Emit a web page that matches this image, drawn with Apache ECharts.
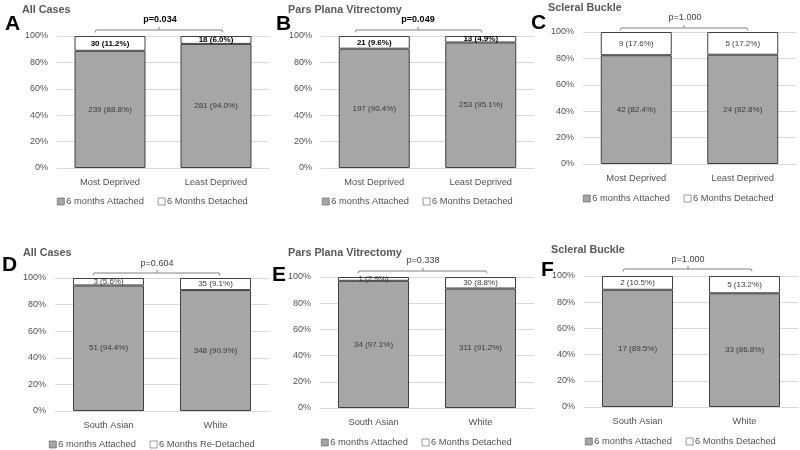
<!DOCTYPE html>
<html>
<head>
<meta charset="utf-8">
<script src="https://cdn.jsdelivr.net/npm/echarts@6/dist/echarts.min.js"></script>
<style>html,body{margin:0;padding:0;background:#fff}#c{width:800px;height:450px}</style>
</head>
<body>
<div id="c"></div>
<script>
// ---- data ----
var catsDeprivation = ['Most Deprived', 'Least Deprived'];
var catsEthnicity = ['South Asian', 'White'];
var yTicks = [0, 20, 40, 60, 80, 100];

var attachedA = [239, 281], attachedPctA = [88.8, 94.0];
var detachedA = [30, 18],   detachedPctA = [11.2, 6.0];
var attachedB = [197, 253], attachedPctB = [90.4, 95.1];
var detachedB = [21, 13],   detachedPctB = [9.6, 4.9];
var attachedC = [42, 24],   attachedPctC = [82.4, 82.8];
var detachedC = [9, 5],     detachedPctC = [17.6, 17.2];
var attachedD = [51, 348],  attachedPctD = [94.4, 90.9];
var detachedD = [3, 35],    detachedPctD = [5.6, 9.1];
var attachedE = [34, 311],  attachedPctE = [97.1, 91.2];
var detachedE = [1, 30],    detachedPctE = [2.9, 8.8];
var attachedF = [17, 33],   attachedPctF = [89.5, 86.8];
var detachedF = [2, 5],     detachedPctF = [10.5, 13.2];

var panelLetters = ['A', 'B', 'C', 'D', 'E', 'F'];
var panelTitles = ['All Cases', 'Pars Plana Vitrectomy', 'Scleral Buckle', 'All Cases', 'Pars Plana Vitrectomy', 'Scleral Buckle'];
var pValues = ['p=0.034', 'p=0.049', 'p=1.000', 'p=0.604', 'p=0.338', 'p=1.000'];
var attachedName = '6 months Attached';
var detachedNames = ['6 Months Detached', '6 Months Detached', '6 Months Detached', '6 Months Re-Detached', '6 Months Detached', '6 Months Detached'];

// ---- layout / style ----
var FONT = 'Liberation Sans, Arial, sans-serif';
var panels = [
  {cats: catsDeprivation, att: attachedA, attP: attachedPctA, det: detachedA, detP: detachedPctA, grid: {left: 57, top: 36, width: 212, height: 132}, boldTop: true,
   letter: [5, 25], title: [22, 10.5], p: [160, 20], br: [95, 223, 30, 159], legend: [57, 203]},
  {cats: catsDeprivation, att: attachedB, attP: attachedPctB, det: detachedB, detP: detachedPctB, grid: {left: 321, top: 36, width: 213, height: 132}, boldTop: true,
   letter: [276, 25], title: [288, 10.5], p: [418, 20], br: [355, 482, 30, 418], legend: [322, 203]},
  {cats: catsDeprivation, att: attachedC, attP: attachedPctC, det: detachedC, detP: detachedPctC, grid: {left: 583, top: 32, width: 213, height: 132}, boldTop: false,
   letter: [531, 24], title: [548, 8.5], p: [685, 18], br: [620, 748, 28, 684], legend: [583, 200]},
  {cats: catsEthnicity, att: attachedD, attP: attachedPctD, det: detachedD, detP: detachedPctD, grid: {left: 55, top: 278, width: 214, height: 133}, boldTop: false,
   letter: [2, 266], title: [23, 253.5], p: [157, 264], br: [93, 220, 273, 157], legend: [49, 446]},
  {cats: catsEthnicity, att: attachedE, attP: attachedPctE, det: detachedE, detP: detachedPctE, grid: {left: 320, top: 277, width: 214, height: 131}, boldTop: false,
   letter: [272, 276], title: [288, 253.5], p: [423, 261], br: [358, 487, 271, 423], legend: [321, 444]},
  {cats: catsEthnicity, att: attachedF, attP: attachedPctF, det: detachedF, detP: detachedPctF, grid: {left: 584, top: 276, width: 214, height: 131}, boldTop: false,
   letter: [541, 271], title: [551, 250.5], p: [688, 260], br: [623, 752, 269, 688], legend: [585, 443]}
];

var grids = [], xAxes = [], yAxes = [], series = [], legends = [], graphics = [];
panels.forEach(function (pn, i) {
  grids.push(Object.assign({containLabel: false}, pn.grid));
  xAxes.push({
    type: 'category', gridIndex: i, data: pn.cats,
    axisLine: {show: true, lineStyle: {color: '#d9d9d9'}}, axisTick: {show: false},
    axisLabel: {color: '#505050', fontSize: 9.3, fontFamily: FONT, margin: 10}
  });
  yAxes.push({
    type: 'value', gridIndex: i, min: yTicks[0], max: yTicks[yTicks.length - 1], interval: yTicks[1] - yTicks[0],
    axisLine: {show: false}, axisTick: {show: false},
    splitLine: {lineStyle: {color: '#d9d9d9', width: 1}},
    axisLabel: {color: '#505050', fontSize: 9, fontFamily: FONT, margin: 9, formatter: '{value}%'}
  });
  var detName = detachedNames[i];
  series.push({
    name: attachedName, type: 'bar', stack: 's' + i, xAxisIndex: i, yAxisIndex: i, barWidth: 71,
    data: pn.attP,
    itemStyle: {color: '#a6a6a6', borderColor: '#404040', borderWidth: 1},
    label: {show: true, position: 'inside', color: '#3a3a3a', fontSize: 8, fontFamily: FONT,
      formatter: (function (arr, pct) { return function (p) { return arr[p.dataIndex] + ' (' + pct[p.dataIndex].toFixed(1) + '%)'; }; })(pn.att, pn.attP)},
    emphasis: {disabled: true}
  });
  series.push({
    name: detName, type: 'bar', stack: 's' + i, xAxisIndex: i, yAxisIndex: i, barWidth: 71,
    data: pn.detP,
    itemStyle: {color: '#ffffff', borderColor: '#404040', borderWidth: 1},
    label: {show: true, position: 'inside', color: pn.boldTop ? '#000000' : '#3a3a3a', fontWeight: pn.boldTop ? 'bold' : 'normal', fontSize: 8, fontFamily: FONT,
      formatter: (function (arr, pct) { return function (p) { return arr[p.dataIndex] + ' (' + pct[p.dataIndex].toFixed(1) + '%)'; }; })(pn.det, pn.detP)},
    emphasis: {disabled: true}
  });
  legends.push({
    data: [attachedName, detName], left: pn.legend[0], top: pn.legend[1] - 6, orient: 'horizontal',
    padding: 0, icon: 'rect', itemWidth: 7, itemHeight: 7, itemGap: 14,
    itemStyle: {borderWidth: 0.6, borderColor: '#595959'},
    selectedMode: false,
    textStyle: {color: '#505050', fontSize: 9.3, fontFamily: FONT, padding: [0, 0, 0, -3]}
  });
  // panel letter
  graphics.push({type: 'text', left: pn.letter[0], top: pn.letter[1] - 11,
    style: {text: panelLetters[i], fontSize: 21, fontWeight: 'bold', fill: '#000', fontFamily: FONT}});
  // title
  graphics.push({type: 'text', x: pn.title[0], y: pn.title[1],
    style: {text: panelTitles[i], fontSize: 10.8, fontWeight: 'bold', fill: '#595959', fontFamily: FONT, textVerticalAlign: 'middle'}});
  // p-value
  var isSig = (i < 2);
  graphics.push({type: 'text', x: pn.p[0], y: pn.p[1],
    style: {text: pValues[i], fontSize: 9, fontWeight: isSig ? 'bold' : 'normal', fill: isSig ? '#000' : '#404040', fontFamily: FONT, textAlign: 'center', textVerticalAlign: 'middle'}});
  // bracket
  var b = pn.br;
  graphics.push({type: 'polyline', shape: {points: [[b[0], b[2] + 2.5], [b[0] + 1, b[2]], [b[1] - 1, b[2]], [b[1], b[2] + 2.5]]},
    style: {stroke: '#808080', lineWidth: 1, fill: null}});
  graphics.push({type: 'line', shape: {x1: b[3], y1: b[2], x2: b[3], y2: b[2] - 3},
    style: {stroke: '#808080', lineWidth: 1}});
});

var chart = echarts.init(document.getElementById('c'), null, {renderer: 'canvas'});
chart.setOption({
  animation: false,
  backgroundColor: '#ffffff',
  textStyle: {fontFamily: FONT},
  grid: grids, xAxis: xAxes, yAxis: yAxes, series: series, legend: legends,
  graphic: graphics
});
</script>
</body>
</html>
